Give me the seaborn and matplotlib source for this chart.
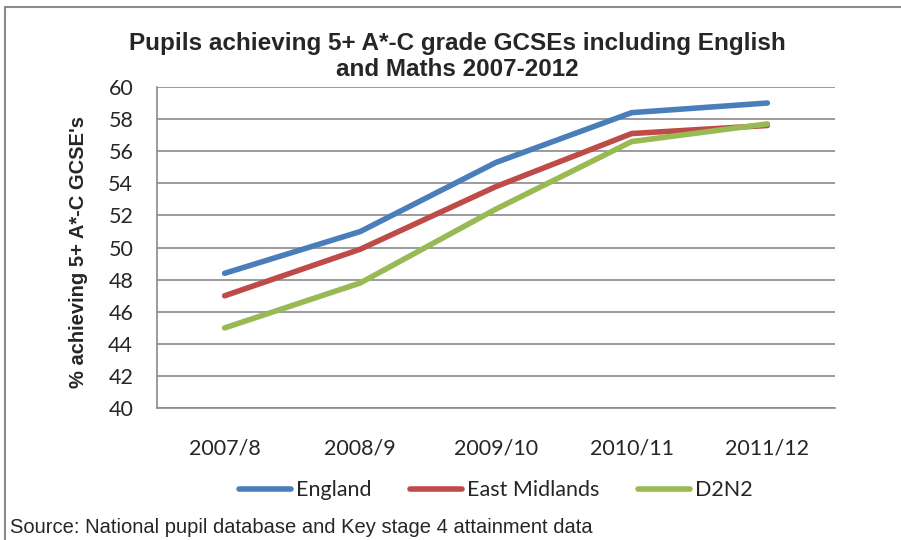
import pandas as pd
import matplotlib.pyplot as plt
import seaborn as sns
from matplotlib.lines import Line2D

years = ["2007/8", "2008/9", "2009/10", "2010/11", "2011/12"]
england = [48.4, 51.0, 55.3, 58.4, 59.0]
east_midlands = [47.0, 49.9, 53.8, 57.1, 57.6]
d2n2 = [45.0, 47.8, 52.4, 56.6, 57.7]
series_names = ["England", "East Midlands", "D2N2"]
colours = ["#4A7EBB", "#BE4B48", "#98B954"]

df = pd.DataFrame({"year": years * 3,
                   "value": england + east_midlands + d2n2,
                   "region": [n for n in series_names for _ in years]})

sns.set_style("white")
plt.rcParams["font.family"] = ["Liberation Sans", "DejaVu Sans"]
grey = "#8a8a8a"

fig = plt.figure(figsize=(9.01, 5.40), dpi=100)
ax = fig.add_axes([0.174, 0.244, 0.753, 0.595])

sns.lineplot(data=df, x="year", y="value", hue="region", palette=colours,
             hue_order=series_names, sort=False, linewidth=4, ax=ax,
             solid_capstyle="round")

ax.set_ylim(40, 60)
ax.set_xlim(-0.5, 4.5)
ax.set_yticks(range(40, 61, 2))
ax.yaxis.grid(True, color=grey, linewidth=1.2)
ax.set_axisbelow(True)
for s in ["top", "right"]:
    ax.spines[s].set_visible(False)
for s in ["left", "bottom"]:
    ax.spines[s].set_color(grey)
    ax.spines[s].set_linewidth(1.2)

ax.set_xticks(range(5))
ax.set_xticklabels(years, fontsize=15.5, family="Lato")
ax.set_xticks([i - 0.5 for i in range(6)], minor=True)
ax.tick_params(axis="x", which="major", length=0, pad=22)
ax.tick_params(axis="x", which="minor", length=7, color=grey, width=1.2, direction="out")
ax.tick_params(axis="y", length=7, color=grey, width=1.2, direction="out", pad=10, labelsize=15.5)
for t in ax.get_yticklabels():
    t.set_family("Lato")

ax.set_xlabel("")
ax.set_ylabel("% achieving 5+ A*-C GCSE's", fontsize=14.5, fontweight="bold")
ax.yaxis.set_label_coords(-0.102, 0.486)

fig.text(0.508, 0.895, "Pupils achieving 5+ A*-C grade GCSEs including English\nand Maths 2007-2012",
         ha="center", va="center", fontsize=17.5, fontweight="bold", linespacing=1.2)

ax.legend(loc="center", bbox_to_anchor=(0.5, -0.255), ncol=3, frameon=False,
          handlelength=2.4, columnspacing=1.8, handletextpad=0.25, prop={"family": "Lato", "size": 15.5})

fig.text(0.011, 0.024, "Source: National pupil database and Key stage 4 attainment data",
         fontsize=14.5, ha="left", va="center")

fig.add_artist(Line2D([0.006, 0.006, 1.0], [0.0, 0.987, 0.987], transform=fig.transFigure,
                      color=grey, linewidth=1.5))

fig.savefig("out.png", dpi=100)
